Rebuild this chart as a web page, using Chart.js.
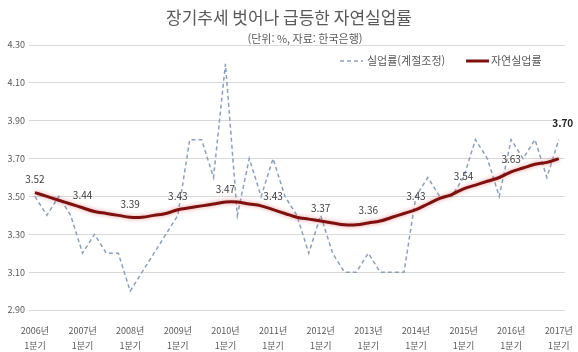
<!DOCTYPE html>
<html lang="ko">
<head>
<meta charset="utf-8">
<script src="https://cdn.jsdelivr.net/npm/chart.js@4.4.1/dist/chart.umd.min.js"></script>
<style>
  html, body { margin: 0; padding: 0; background: #fff; }
  #wrap { width: 578px; height: 352px; }
</style>
</head>
<body>
<div id="wrap"><canvas id="rateChart" width="578" height="352"></canvas></div>
<script>
// 분기 라벨 (2006년 1분기 ~ 2017년 1분기)
const years = ['2006', '2007', '2008', '2009', '2010', '2011', '2012', '2013', '2014', '2015', '2016', '2017'];
const quarters = ['1분기', '2분기', '3분기', '4분기'];

// 실업률(계절조정), %
const unemployment = [
  3.5, 3.4, 3.5, 3.4,
  3.2, 3.3, 3.2, 3.2,
  3.0, 3.1, 3.2, 3.3,
  3.4, 3.8, 3.8, 3.6,
  4.2, 3.4, 3.7, 3.5,
  3.7, 3.5, 3.4, 3.2,
  3.4, 3.2, 3.1, 3.1,
  3.2, 3.1, 3.1, 3.1,
  3.5, 3.6, 3.5, 3.5,
  3.6, 3.8, 3.7, 3.5,
  3.8, 3.7, 3.8, 3.6,
  3.8
];

// 자연실업률, %
const naturalRate = [
  3.52, 3.50, 3.48, 3.46,
  3.44, 3.42, 3.41, 3.40,
  3.39, 3.39, 3.40, 3.41,
  3.43, 3.44, 3.45, 3.46,
  3.47, 3.47, 3.46, 3.45,
  3.43, 3.41, 3.39, 3.38,
  3.37, 3.36, 3.35, 3.35,
  3.36, 3.37, 3.39, 3.41,
  3.43, 3.46, 3.49, 3.51,
  3.54, 3.56, 3.58, 3.60,
  3.63, 3.65, 3.67, 3.68,
  3.70
];

const yTicks = { min: 2.9, max: 4.3, step: 0.2 };

const labels = [];
years.forEach((y, yi) => {
  quarters.forEach((q, qi) => {
    if (yi === years.length - 1 && qi > 0) return;
    labels.push([y + '년', q]);
  });
});

const FONT = '"Noto Sans CJK KR", "Noto Sans", sans-serif';
const TEXT_GRAY = '#595959';

// 제목, 범례, 연도별 라벨
const decorPlugin = {
  id: 'decor',
  beforeDatasetDraw(chart, args) {
    if (args.index !== 1) return;
    const ctx = chart.ctx;
    ctx.save();
    ctx.shadowColor = 'rgba(210, 70, 70, 0.55)';
    ctx.shadowBlur = 4;
  },
  afterDatasetDraw(chart, args) {
    if (args.index !== 1) return;
    chart.ctx.restore();
  },
  afterDraw(chart) {
    const ctx = chart.ctx;
    ctx.save();

    // 제목
    ctx.fillStyle = TEXT_GRAY;
    ctx.textAlign = 'center';
    ctx.textBaseline = 'middle';
    ctx.font = '17px ' + FONT;
    ctx.fillText('장기추세 벗어나 급등한 자연실업률', 289, 18);
    ctx.font = '11px ' + FONT;
    ctx.fillText('(단위: %, 자료: 한국은행)', 305, 39);

    // 범례
    ctx.textAlign = 'left';
    ctx.font = '11px ' + FONT;
    ctx.strokeStyle = '#8CA0B8';
    ctx.lineWidth = 1.5;
    ctx.setLineDash([4, 3]);
    ctx.beginPath();
    ctx.moveTo(340, 61);
    ctx.lineTo(363, 61);
    ctx.stroke();
    ctx.setLineDash([]);
    ctx.fillText('실업률(계절조정)', 367, 61);

    ctx.strokeStyle = '#7E1010';
    ctx.lineWidth = 3;
    ctx.beginPath();
    ctx.moveTo(466, 61);
    ctx.lineTo(489, 61);
    ctx.stroke();
    ctx.fillText('자연실업률', 491, 61);

    // 매년 1분기 자연실업률 값
    const meta = chart.getDatasetMeta(1);
    const last = naturalRate.length - 1;
    ctx.textAlign = 'center';
    meta.data.forEach((pt, i) => {
      if (i % 4 !== 0) return;
      if (i === last) {
        ctx.font = 'bold 10px ' + FONT;
        ctx.fillStyle = '#262626';
        ctx.fillText(naturalRate[i].toFixed(2), pt.x + 4, pt.y - 35);
      } else {
        ctx.font = '10px ' + FONT;
        ctx.fillStyle = '#404040';
        ctx.fillText(naturalRate[i].toFixed(2), pt.x, pt.y - 13);
      }
    });
    ctx.restore();
  }
};

new Chart(document.getElementById('rateChart'), {
  type: 'line',
  data: {
    labels,
    datasets: [
      {
        label: '실업률(계절조정)',
        data: unemployment,
        borderColor: '#8CA0B8',
        borderWidth: 1.5,
        borderDash: [4, 3],
        pointRadius: 0,
        tension: 0,
        fill: false,
        order: 1
      },
      {
        label: '자연실업률',
        data: naturalRate,
        borderColor: '#7E1010',
        borderWidth: 3,
        pointRadius: 0,
        tension: 0.4,
        fill: false,
        order: 0
      }
    ]
  },
  options: {
    responsive: false,
    animation: false,
    layout: { padding: { top: 45, right: 9, left: 0, bottom: 0 } },
    plugins: {
      legend: { display: false },
      title: { display: false },
      tooltip: { enabled: false }
    },
    scales: {
      x: {
        offset: true,
        grid: { display: false },
        border: { display: false },
        afterFit(scale) { scale.height = 42; },
        ticks: {
          autoSkip: false,
          maxRotation: 0,
          minRotation: 0,
          padding: 5,
          color: TEXT_GRAY,
          font: { family: FONT, size: 9, lineHeight: 1.65 },
          callback(val, i) { return i % 4 === 0 ? this.getLabelForValue(val) : ''; }
        }
      },
      y: {
        min: yTicks.min,
        max: yTicks.max,
        grid: { color: '#D9D9D9', lineWidth: 1, drawTicks: false },
        border: { display: false },
        afterFit(scale) { scale.width = 29; },
        ticks: {
          stepSize: yTicks.step,
          padding: 4,
          color: TEXT_GRAY,
          font: { family: FONT, size: 9 },
          callback: (v) => Number(v).toFixed(2)
        }
      }
    }
  },
  plugins: [decorPlugin]
});
</script>
</body>
</html>
